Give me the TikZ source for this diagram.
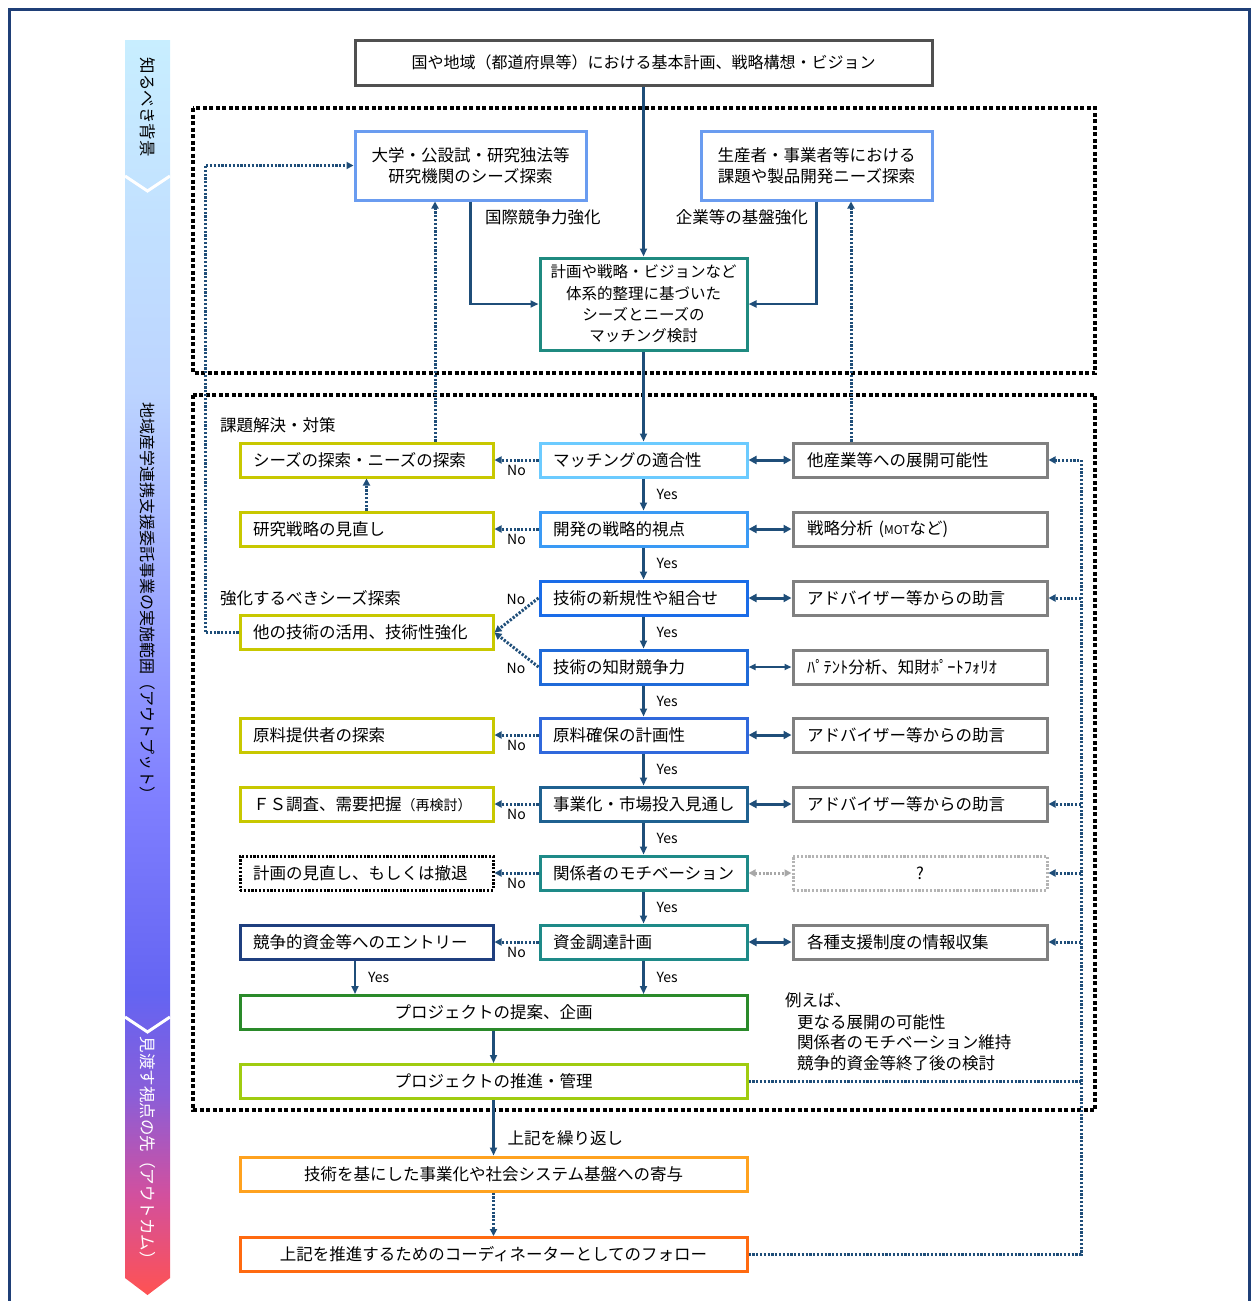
\documentclass[tikz,border=0pt]{standalone}
\usepackage{fontspec}
\setmainfont{Noto Sans CJK JP}
\usetikzlibrary{arrows.meta,calc}

% palette
\definecolor{navy}{HTML}{1F4E79}
\definecolor{framenavy}{HTML}{1F3F77}
\definecolor{topgray}{HTML}{505050}
\definecolor{seedblue}{HTML}{6A9CF0}
\definecolor{tealc}{HTML}{1F8A80}
\definecolor{olive}{HTML}{C8C800}
\definecolor{rgray}{HTML}{808080}
\definecolor{cA}{HTML}{6CCBFF}
\definecolor{cB}{HTML}{3A9AF5}
\definecolor{cC}{HTML}{1A6CE8}
\definecolor{cD}{HTML}{1F6AD8}
\definecolor{cE}{HTML}{3068DC}
\definecolor{cF}{HTML}{1F6190}
\definecolor{cG}{HTML}{1E8A88}
\definecolor{entry}{HTML}{1F3F7F}
\definecolor{pgreen}{HTML}{2A8A2A}
\definecolor{ygreen}{HTML}{A0CC10}
\definecolor{orangeA}{HTML}{FFA21F}
\definecolor{orangeB}{HTML}{FF6A10}
\definecolor{qgray}{HTML}{B4B4B4}
\definecolor{arrgray}{HTML}{A8A8A8}
% banner gradient stops
\definecolor{bnR}{HTML}{FF5252}
\definecolor{bnP}{HTML}{D2509E}
\definecolor{bnU}{HTML}{8A5ED8}
\definecolor{bnV}{HTML}{6464F2}
\definecolor{bnB}{HTML}{8080FF}
\definecolor{bnL}{HTML}{BCD4FF}
\definecolor{bnC}{HTML}{C8EEFF}

\pgfdeclareverticalshading{bannershade}{100bp}{color(0bp)=(bnR); color(25bp)=(bnR); color(29bp)=(bnP); color(33bp)=(bnU); color(37bp)=(bnV); color(45bp)=(bnB); color(61bp)=(bnL); color(75bp)=(bnC); color(100bp)=(bnC)}

\newcommand{\boxfont}{\fontsize{16.5}{21}\selectfont}
\newcommand{\headfont}{\fontsize{16}{21}\selectfont}
\newcommand{\smallboxfont}{\fontsize{15.5}{21.3}\selectfont}
\newcommand{\labfont}{\fontsize{14}{16}\selectfont}

\tikzset{
  every node/.style={font=\boxfont},
  box/.style={draw, line width=3pt, fill=white, minimum height=34pt, inner ysep=0pt},
  cbox/.style={box, text width=181pt, inner xsep=13pt, align=left},
  lbox/.style={box, draw=olive, text width=227pt, inner xsep=13pt, align=left},
  rbox/.style={box, draw=rgray, text width=226pt, inner xsep=14pt, align=left},
  wbox/.style={box, minimum width=507pt, align=center},
  flow/.style={navy, line width=2.2pt, -{Triangle[length=8pt,width=7pt]}},
  both/.style={navy, line width=3pt, {Triangle[length=8pt,width=8pt]}-{Triangle[length=8pt,width=8pt]}},
  dotpat/.style={line width=3pt, dash pattern=on 2.2pt off 1.6pt},
  dotflow/.style={navy, dotpat, -{Triangle[length=7pt,width=7pt]}},
  dotline/.style={navy, dotpat},
  zone/.style={black, line width=4.5pt, dash pattern=on 4pt off 2.5pt},
  lab/.style={font=\labfont, text=black, inner sep=1pt},
  txt/.style={inner sep=0pt, text=black},
}

\begin{document}
\begin{tikzpicture}[x=1pt,y=-1pt]
\useasboundingbox (0,0) rectangle (1253,1301);
\clip (0,0) rectangle (1253,1301);

% outer frame
\draw[framenavy, line width=3pt] (9.5,1320) -- (9.5,9.5) -- (1249.5,9.5) -- (1249.5,1320);

% side banner
\shade[shading=bannershade] (125,40) -- (170,40) -- (170,1278) -- (147.5,1295) -- (125,1278) -- cycle;
\draw[white, line width=3pt] (125,176) -- (147.5,191) -- (170,176);
\draw[white, line width=3pt] (125,1017) -- (147.5,1032) -- (170,1017);
\node[rotate=-90, txt] (bkg) at (147.5,107) {知るべき背景};
\node[rotate=-90, txt, font=\headfont] (scope) at (147.5,602) {地域産学連携支援委託事業の実施範囲（アウトプット）};
\node[rotate=-90, txt, text=white] (outcome) at (147.5,1152) {見渡す視点の先（アウトカム）};

% dotted zones
\draw[zone] (193,108) rectangle (1095,373);
\draw[zone] (193,395) rectangle (1095,1110);

% top part
\node[box, draw=topgray, minimum width=577pt, minimum height=45pt, font=\headfont] (plan) at (643.5,62.5) {国や地域（都道府県等）における基本計画、戦略構想・ビジョン};
\node[box, draw=seedblue, minimum width=231pt, minimum height=69pt, align=center] (seeds) at (470.5,165.5) {大学・公設試・研究独法等\\研究機関のシーズ探索};
\node[box, draw=seedblue, minimum width=231pt, minimum height=69pt, align=center] (needs) at (816.5,165.5) {生産者・事業者等における\\課題や製品開発ニーズ探索};
\node[box, draw=tealc, minimum width=207pt, minimum height=92pt, align=center, font=\smallboxfont] (match) at (643.5,304) {計画や戦略・ビジョンなど\\体系的整理に基づいた\\シーズとニーズの\\マッチング検討};
\node[txt, anchor=west] (intl) at (485,217) {国際競争力強化};
\node[txt, anchor=east] (base) at (808,217) {企業等の基盤強化};

% centre column
\node[cbox, draw=cA] (c1) at (643.5,460) {マッチングの適合性};
\node[cbox, draw=cB] (c2) at (643.5,529) {開発の戦略的視点};
\node[cbox, draw=cC] (c3) at (643.5,598) {技術の新規性や組合せ};
\node[cbox, draw=cD] (c4) at (643.5,667) {技術の知財競争力};
\node[cbox, draw=cE] (c5) at (643.5,735) {原料確保の計画性};
\node[cbox, draw=cF] (c6) at (643.5,804) {事業化・市場投入見通し};
\node[cbox, draw=cG] (c7) at (643.5,873) {関係者のモチベーション};
\node[cbox, draw=cG] (c8) at (643.5,942) {資金調達計画};

% left column
\node[lbox] (l1) at (366.5,460) {シーズの探索・ニーズの探索};
\node[lbox] (l2) at (366.5,529) {研究戦略の見直し};
\node[lbox] (l3) at (366.5,632.5) {他の技術の活用、技術性強化};
\node[lbox] (l5) at (366.5,735) {原料提供者の探索};
\node[lbox] (l6) at (366.5,804) {ＦＳ調査、需要把握{\fontsize{14}{16}\selectfont（再検討）}};
\node[lbox, draw=black, dotpat] (l7) at (366.5,873) {計画の見直し、もしくは撤退};
\node[lbox, draw=entry] (l8) at (366.5,942) {競争的資金等へのエントリー};
\node[txt, anchor=west] (solve) at (220,425) {課題解決・対策};
\node[txt, anchor=west] (enhance) at (220,598) {強化するべきシーズ探索};

% right column
\node[rbox] (r1) at (920,460) {他産業等への展開可能性};
\node[rbox] (r2) at (920,529) {戦略分析 ({\fontsize{12}{14}\selectfont MOT}など)};
\node[rbox] (r3) at (920,598) {アドバイザー等からの助言};
\node[rbox] (r4) at (920,667) {ﾊﾟﾃﾝﾄ分析、知財ﾎﾟｰﾄﾌｫﾘｵ};
\node[rbox] (r5) at (920,735) {アドバイザー等からの助言};
\node[rbox] (r6) at (920,804) {アドバイザー等からの助言};
\node[rbox, draw=qgray, dotpat, align=center] (r7) at (920,873) {?};
\node[rbox] (r8) at (920,942) {各種支援制度の情報収集};

% lower wide boxes
\node[wbox, draw=pgreen] (propose) at (493.5,1012.5) {プロジェクトの提案、企画};
\node[wbox, draw=ygreen] (manage) at (493.5,1081.5) {プロジェクトの推進・管理};
\node[wbox, draw=orangeA] (contrib) at (493.5,1174) {技術を基にした事業化や社会システム基盤への寄与};
\node[wbox, draw=orangeB] (follow) at (493.5,1254.5) {上記を推進するためのコーディネーターとしてのフォロー};
\node[txt, anchor=west] (eg0) at (785,1000) {例えば、};
\node[txt, anchor=west] (eg1) at (797,1022) {更なる展開の可能性};
\node[txt, anchor=west] (eg2) at (797,1042) {関係者のモチベーション維持};
\node[txt, anchor=west] (eg3) at (797,1063) {競争的資金等終了後の検討};

% helper columns for connectors
\coordinate (xa) at (435,0);
\coordinate (xb) at (851,0);
\coordinate (xl) at (205,0);
\coordinate (xe) at (355,0);
\coordinate (fb) at (1081,0);

% top connectors
\draw[flow] (plan.south) -- (match.north);
\draw[flow] (seeds.south) |- (match.west);
\draw[flow] (needs.south) |- (match.east);
\draw[flow] (match.south) -- (c1.north);

% yes chain
\foreach \a/\b in {c1/c2,c2/c3,c3/c4,c4/c5,c5/c6,c6/c7,c7/c8}
  \draw[flow] (\a.south) -- (\b.north) node[midway, right=11pt, lab] {Yes};
\draw[flow] (c8.south) -- (c8.south |- propose.north) node[midway, right=11pt, lab] {Yes};
\draw[flow] (xe |- l8.south) -- (xe |- propose.north) node[midway, right=11pt, lab] {Yes};
\draw[flow] (propose.south) -- (manage.north);
\draw[flow] (manage.south) -- (contrib.north) node[pos=0.68, right=13pt, txt] {上記を繰り返し};
\draw[dotflow] (contrib.south) -- (follow.north);

% no branches
\foreach \a/\b in {c1/l1,c2/l2,c5/l5,c6/l6,c7/l7,c8/l8}
  \draw[dotflow] (\a.west) -- (\b.east) node[midway, below=3pt, lab] {No};
\draw[dotflow] (c3.west) -- (l3.east);
\draw[dotflow] (c4.west) -- (l3.east);
\node[lab] (no3) at (516,599) {No};
\node[lab] (no4) at (516,668) {No};

% feedback loops on the left
\draw[dotflow] (l2.north) -- (l1.south);
\draw[dotflow] (xa |- l1.north) -- (xa |- seeds.south);
\draw[dotflow] (xb |- r1.north) -- (xb |- needs.south);
\draw[dotflow] (l3.west) -| (xl |- seeds.west) -- (seeds.west);

% links to support boxes
\foreach \a/\b in {c1/r1,c2/r2,c3/r3,c5/r5,c6/r6,c8/r8}
  \draw[both] (\a.east) -- (\b.west);
\draw[navy, line width=2pt, {Triangle[length=7pt,width=6pt]}-{Triangle[length=7pt,width=6pt]}] (c4.east) -- (r4.west);
\draw[arrgray, dotpat, {Triangle[length=7pt,width=7pt]}-{Triangle[length=7pt,width=7pt]}] (c7.east) -- (r7.west);

% follow-up line on the right
\draw[dotline] (manage.east) -- (manage.east -| fb);
\draw[dotflow] (follow.east) -| (fb |- r1.east) -- (r1.east);
\foreach \b in {r3,r6,r7,r8}
  \draw[dotflow] (fb |- \b.east) -- (\b.east);
\end{tikzpicture}
\end{document}
